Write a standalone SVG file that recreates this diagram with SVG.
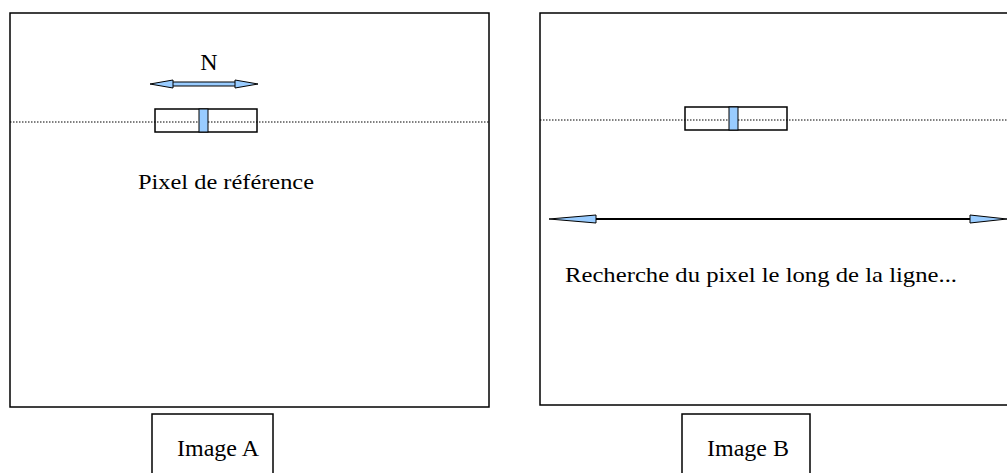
<svg xmlns="http://www.w3.org/2000/svg" width="1007" height="473" viewBox="0 0 1007 473">
<style>
.frame{fill:#fff;stroke:#000;stroke-width:1.5}
.dot{stroke:#000;stroke-width:1;stroke-dasharray:1.5 1.5;fill:none}
.box{fill:none;stroke:#000;stroke-width:1.5}
.px{fill:#99ccff;stroke:#000;stroke-width:1}
.head{fill:#99ccff;stroke:#000;stroke-width:1;stroke-linejoin:miter}
.t{font-family:"Liberation Serif","Times New Roman",serif;fill:#000}
</style>
<rect width="1007" height="473" fill="#fff"/>
<g id="imageA">
<rect class="frame" x="10" y="13" width="479" height="394"/>
<line class="dot" x1="10" y1="122" x2="489" y2="122"/>
<g id="pixelA">
<rect class="box" x="155" y="109" width="102" height="23"/>
<rect class="px" x="199" y="109" width="9" height="23"/>
</g>
<g id="arrowN">
<rect class="px" x="172" y="82" width="64" height="4"/>
<polygon class="head" points="150,84 173,80 173,88"/>
<polygon class="head" points="258,84 235,80 235,88"/>
</g>
<text class="t" x="209" y="70" font-size="24" text-anchor="middle">N</text>
<text class="t" x="138" y="189" font-size="21" textLength="176" lengthAdjust="spacingAndGlyphs">Pixel de référence</text>
</g>
<g id="imageB">
<rect class="frame" x="540" y="13" width="480" height="392"/>
<line class="dot" x1="540" y1="120" x2="1007" y2="120"/>
<g id="pixelB">
<rect class="box" x="685" y="107" width="102" height="23"/>
<rect class="px" x="729" y="107" width="9" height="23"/>
</g>
<g id="connectors">
<line x1="595" y1="219" x2="971" y2="219" stroke="#000" stroke-width="2"/>
<polygon class="head" points="549,219 596,215 596,223"/>
<polygon class="head" points="1007,219 970,215 970,223"/>
</g>
<text class="t" x="565" y="282" font-size="21" textLength="392" lengthAdjust="spacingAndGlyphs">Recherche du pixel le long de la ligne...</text>
</g>
<g id="labelA">
<rect class="frame" x="152" y="414" width="121" height="70"/>
<text class="t" x="177" y="456" font-size="24">Image A</text>
</g>
<g id="labelB">
<rect class="frame" x="682" y="414" width="128" height="70"/>
<text class="t" x="707" y="456" font-size="24">Image B</text>
</g>
</svg>
